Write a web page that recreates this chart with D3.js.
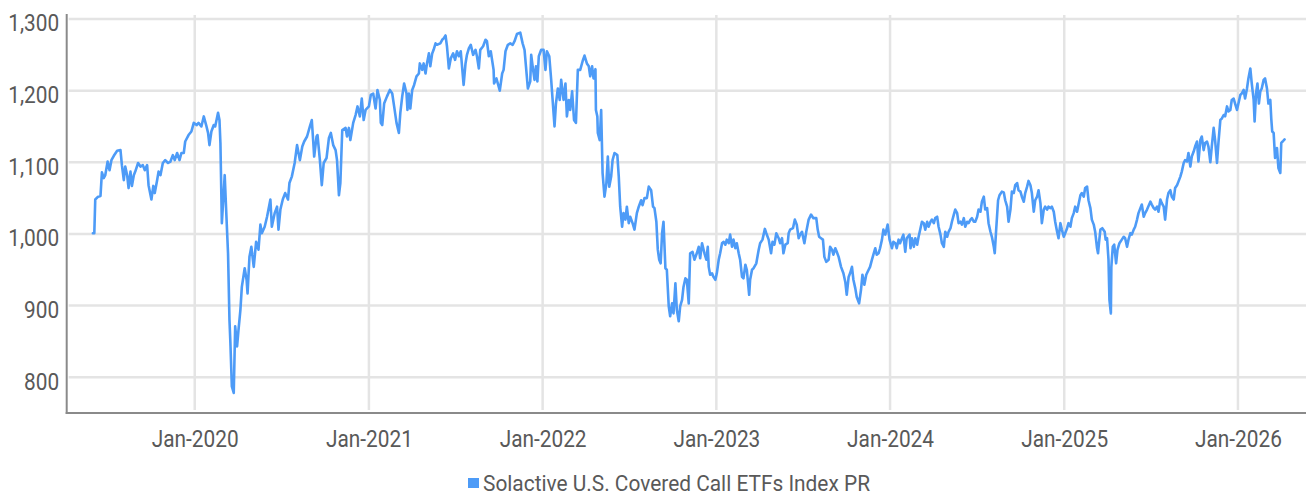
<!DOCTYPE html>
<html>
<head>
<meta charset="utf-8">
<script src="https://cdn.jsdelivr.net/npm/d3@7"></script>
<style>
  html, body { margin: 0; padding: 0; background: #ffffff; }
  svg { display: block; }
  text { font-family: Roboto, "Noto Sans", sans-serif; fill: #595959; }
</style>
</head>
<body>
<svg id="chart" width="1306" height="496"></svg>
<script>
// ---------------- DATA ----------------
const seriesName = "Solactive U.S. Covered Call ETFs Index PR";
const yTickValues = [800, 900, 1000, 1100, 1200, 1300];
const xTickYears = [2020, 2021, 2022, 2023, 2024, 2025, 2026];
const xTickLabels = ["Jan-2020", "Jan-2021", "Jan-2022", "Jan-2023", "Jan-2024", "Jan-2025", "Jan-2026"];

// dates as spreadsheet serial numbers (days since 1899-12-30)
const serialDates = [
43617,43620,43622,43628,43633,43636,43640,43643,43648,43652,
43656,43661,43668,43675,43678,43682,43685,43689,43692,43696,
43699,43703,43706,43712,43717,43722,43726,43731,43734,43740,
43744,43747,43752,43755,43759,43764,43769,43775,43780,43785,
43789,43794,43799,43803,43808,43811,43818,43824,43829,43835,
43839,43845,43850,43855,43859,43862,43866,43871,43874,43880,
43883,43885,43888,43891,43894,43897,43901,43904,43906,43909,
43913,43916,43920,43923,43927,43930,43936,43940,43942,43946,
43950,43955,43960,43965,43969,43972,43978,43983,43990,43993,
43999,44004,44007,44011,44016,44021,44027,44030,44035,44041,
44046,44052,44057,44061,44067,44073,44077,44080,44082,44087,
44089,44094,44098,44102,44108,44113,44117,44122,44127,44130,
44134,44137,44141,44148,44151,44155,44158,44164,44169,44173,
44178,44182,44186,44190,44197,44201,44206,44211,44215,44220,
44222,44225,44229,44235,44241,44246,44250,44255,44260,44263,
44267,44271,44276,44278,44281,44284,44288,44292,44297,44302,
44304,44309,44312,44316,44319,44323,44326,44330,44333,44337,
44340,44347,44351,44354,44358,44361,44365,44369,44374,44378,
44382,44386,44390,44396,44400,44403,44407,44411,44416,44421,
44424,44428,44431,44437,44442,44445,44449,44453,44459,44460,
44465,
44472,44477,44480,44484,44489,44494,44499,44503,44508,44515,
44520,44524,44527,44531,44536,44538,44542,44545,44548,44551,
44554,44559,44564,44568,44571,44576,44580,44583,44587,44590,
44594,44598,44601,44606,44610,44613,44617,44620,44624,44628,
44632,44636,44641,44646,44650,44655,44659,44662,44666,44669,
44673,44674,44677,44678,44682,44685,44688,44692,44696,44699,
44702,44706,44709,44713,44719,44722,44725,44729,44732,44736,
44739,44743,44746,44751,44755,44760,44764,44769,44772,44776,
44781,44785,44790,44794,44797,44801,44804,44807,44810,44813,
44816,44820,44823,44827,44830,44834,44837,44841,44844,44848,
44851,44855,44858,44862,44865,44869,44872,44877,44881,44886,
44890,44893,44897,44902,
44906,44909,44911,44914,44918,44921,44925,44928,44932,44935,
44939,44942,44946,44949,44953,44956,44960,44963,44967,44970,
44974,44977,44981,44984,44988,44991,44996,44998,45002,45005,
45011,45016,45019,45024,45029,45032,45037,45042,45045,45049,
45053,45058,45061,45065,45068,45072,45077,45079,45082,45088,
45092,45096,45100,45103,45107,45112,45116,45121,45126,45131,
45137,45140,45143,45147,45151,45154,45158,45163,45166,45170,
45173,45177,45180,45184,45189,45194,45198,45201,45205,45208,
45212,45215,45219,45222,45227,45231,45234,45238,45242,45247,
45250,45254,45257,45261,45264,45268,45271,45275,45278,45282,
45287,45291,45296,45299,45303,45306,45310,45313,45317,45320,
45324,45327,45333,
45335,45338,45342,45345,45349,45352,45356,45359,45363,45366,
45370,45373,45377,45380,45384,45387,45391,45394,45398,45401,
45405,45408,45412,45415,45419,45422,45426,45429,45433,45436,
45440,45443,45447,45450,45454,45457,45461,45464,45468,45471,
45475,45478,45482,45485,45489,45492,45496,45499,45503,45506,
45510,45512,45515,45519,45522,45527,45531,45534,45538,45541,
45545,45548,45552,45555,45559,45562,45566,45569,45573,45576,
45580,45583,45587,45590,45594,45597,45601,45604,45608,45611,
45615,45618,45622,45625,45629,45632,45636,45639,45643,45646,
45650,45653,45657,45660,45664,45667,45671,45674,45678,45681,
45685,45688,45692,45695,45699,45702,45706,45709,45713,45716,
45720,45723,45727,45729,45731,45734,45738,45743,45745,45748,
45751,45753,45756,
45757,45760,45763,45767,45770,45774,45779,45783,45786,45790,
45793,45797,45800,45804,45807,45811,45814,45818,45821,45825,
45828,45832,45839,45842,45846,45849,45853,45856,45860,45863,
45867,45870,45874,45877,45881,45884,45888,45891,45895,45898,
45902,45905,45909,45912,45916,45919,45923,45926,45930,45933,
45937,45940,45944,45947,45951,45954,45958,45961,45965,45968,
45972,45975,45979,45982,45986,45989,45993,45996,46000,46003,
46007,46010,46014,46017,46021,46024,46028,46031,46035,46038,
46042,46045,46049,46052,46056,46058,46061,46064,46067,46070,
46073,46077,46080,46084,46087,46091,46093,46095,46098,46101,
46105,46108,46112,46114,46117,46121
];

const indexValues = [
1001,1001,1048,1052,1053,1086,1078,1082,1101,1089,
1103,1109,1116,1117,1096,1075,1094,1082,1064,1087,
1067,1082,1087,1099,1094,1096,1089,1096,1068,1048,
1067,1057,1075,1087,1082,1099,1103,1099,1101,1110,
1103,1113,1103,1113,1113,1129,1138,1143,1155,1152,
1155,1150,1164,1152,1141,1124,1143,1152,1150,1169,
1159,1127,1015,1048,1082,1034,973,880,847,787,
778,871,843,866,894,926,952,936,917,968,
982,954,989,978,1013,1001,1010,1024,1048,1010,
1029,1038,1006,1034,1048,1057,1048,1071,1080,1099,
1124,1103,1122,1129,1136,1150,1159,1129,1108,1136,
1138,1103,1068,1099,1106,1134,1141,1124,1117,1103,
1054,1071,1145,1148,1136,1148,1131,1155,1166,1178,
1164,1189,1159,1173,1178,1194,1196,1175,1201,1187,
1155,1152,1182,1192,1201,1196,1178,1155,1141,1169,
1192,1210,1196,1173,1196,1175,1201,1208,1220,1224,
1238,1229,1238,1224,1238,1252,1234,1252,1257,1266,
1264,1266,1271,1273,1277,1262,1231,1245,1252,1243,
1255,1248,1255,1208,1238,1250,1259,1264,1250,1257,
1248,1231,1257,1262,1271,1269,1248,1255,1229,1210,
1217,
1200,1224,1229,1255,1264,1266,1264,1269,1279,1281,
1266,1257,1234,1203,1213,1250,1229,1215,1234,1213,
1248,1257,1257,1229,1255,1248,1215,1187,1150,1182,
1203,1187,1215,1187,1210,1164,1187,1173,1199,1159,
1155,1229,1229,1241,1249,1238,1234,1220,1234,1217,
1230,1173,1164,1141,1131,1173,1085,1052,1071,1108,
1066,1080,1103,1113,1110,1080,1038,1010,1029,1020,
1038,1015,1024,1015,1006,1029,1038,1047,1040,1050,
1050,1066,1061,1038,1036,1017,978,964,959,1001,
1017,952,950,899,885,903,889,931,894,878,
899,908,926,938,936,903,973,975,964,973,
982,966,987,973,
964,982,954,943,945,940,936,945,964,973,
987,989,985,992,987,999,982,992,980,987,
973,964,940,938,957,950,915,936,950,952,
959,978,987,992,1007,1001,992,973,989,985,
1001,994,987,994,973,985,987,1001,1006,1008,
1020,1013,994,999,1003,987,1003,1020,1027,1022,
1022,1006,996,994,992,968,961,964,982,978,
971,980,975,968,954,945,933,915,940,945,
954,936,924,912,903,922,943,929,943,950,
954,964,971,980,971,973,980,992,1006,999,
1013,992,980,989,987,980,992,987,994,999,
975,994,999,
980,994,982,994,985,996,1008,1017,1015,1006,
1017,1010,1017,1020,1015,1022,1024,1010,999,987,
982,1003,996,1003,1008,1017,1027,1034,1029,1015,
1017,1013,1022,1010,1017,1015,1020,1022,1017,1017,
1024,1034,1031,1045,1052,1034,1036,1015,1003,996,
982,973,1006,1047,1054,1059,1058,1047,1038,1017,
1034,1059,1057,1068,1071,1061,1059,1052,1045,1057,
1066,1074,1068,1057,1031,1047,1052,1061,1043,1015,
1034,1038,1034,1038,1036,1038,1031,1017,1003,994,
1015,1006,996,1001,1008,1015,1010,1022,1029,1038,
1031,1041,1054,1057,1052,1064,1066,1047,1036,1020,
1013,1003,980,973,987,1006,1008,1003,992,994,
964,908,889,
954,982,985,959,978,987,992,996,994,982,
992,1001,999,1006,1010,1020,1029,1036,1041,1024,
1029,1034,1045,1041,1036,1034,1038,1031,1048,1043,
1038,1020,1048,1057,1061,1052,1048,1064,1068,1073,
1080,1087,1099,1103,1101,1113,1094,1108,1115,1122,
1129,1101,1131,1136,1117,1127,1129,1122,1100,1122,
1148,1131,1099,1127,1159,1161,1166,1164,1178,1171,
1173,1187,1189,1182,1173,1182,1194,1196,1201,1189,
1203,1217,1231,1210,1187,1157,1196,1210,1182,1199,
1203,1215,1217,1203,1182,1187,1161,1143,1141,1106,
1120,1092,1085,1127,1129,1132
];

// ---------------- CHART ----------------
const fromSerial = s => new Date(Date.UTC(1899, 11, 30) + s * 864e5);
const series = serialDates.map((s, i) => ({ date: fromSerial(s), value: indexValues[i] }));

const svg = d3.select("#chart");
const plot = { left: 66.7, right: 1306, top: 14, bottom: 413 };

const x = d3.scaleUtc()
  .domain([fromSerial(43562), fromSerial(46166)])
  .range([plot.left, plot.right]);
const y = d3.scaleLinear()
  .domain([750, 1307])
  .range([plot.bottom, plot.top]);

const gridColor = "#e4e4e4";
const lineColor = "#4d9bf7";
const axisColor = "#8a8a8a";

// horizontal grid
svg.append("g").selectAll("line").data(yTickValues).join("line")
  .attr("x1", plot.left + 2).attr("x2", plot.right)
  .attr("y1", d => y(d)).attr("y2", d => y(d))
  .attr("stroke", gridColor).attr("stroke-width", 2.5);

// vertical grid
const xTickDates = xTickYears.map(yr => new Date(Date.UTC(yr, 0, 1)));
svg.append("g").selectAll("line").data(xTickDates).join("line")
  .attr("x1", d => x(d)).attr("x2", d => x(d))
  .attr("y1", plot.top + 1).attr("y2", plot.bottom - 3)
  .attr("stroke", gridColor).attr("stroke-width", 2.5);

// y axis labels
const yAxis = svg.append("g")
  .attr("transform", `translate(${plot.left},0)`)
  .call(d3.axisLeft(y).tickValues(yTickValues).tickSize(0).tickPadding(7.5).tickFormat(d3.format(",")));
yAxis.select(".domain").remove();
yAxis.selectAll("text")
  .attr("dy", "0.52em")
  .style("font-size", "23px").style("font-family", "Roboto, 'Noto Sans', sans-serif").attr("fill", "#595959");

// x axis labels
const xAxis = svg.append("g")
  .attr("transform", `translate(0,${plot.bottom})`)
  .call(d3.axisBottom(x).tickValues(xTickDates).tickSize(0).tickFormat((d, i) => xTickLabels[i]));
xAxis.select(".domain").remove();
xAxis.selectAll("text")
  .attr("y", 34).attr("dy", 0)
  .style("font-size", "23px").style("font-family", "Roboto, 'Noto Sans', sans-serif").attr("fill", "#595959");

// axis lines
svg.append("line")
  .attr("x1", plot.left).attr("x2", plot.left)
  .attr("y1", plot.top).attr("y2", plot.bottom + 1)
  .attr("stroke", axisColor).attr("stroke-width", 2);
svg.append("line")
  .attr("x1", plot.left - 1).attr("x2", plot.right)
  .attr("y1", plot.bottom).attr("y2", plot.bottom)
  .attr("stroke", axisColor).attr("stroke-width", 2);

// series line
const line = d3.line().x(d => x(d.date)).y(d => y(d.value));
svg.append("path")
  .datum(series)
  .attr("d", line)
  .attr("fill", "none")
  .attr("stroke", lineColor)
  .attr("stroke-width", 2.6)
  .attr("stroke-linejoin", "round")
  .attr("stroke-linecap", "round");

// legend
const legend = svg.append("g");
legend.append("rect")
  .attr("x", 468).attr("y", 478).attr("width", 11).attr("height", 10)
  .attr("fill", lineColor);
legend.append("text")
  .attr("class", "legend-label")
  .attr("x", 483).attr("y", 490.5)
  .style("font-size", "22.5px")
  .text(seriesName);

// condensed look: compress glyphs horizontally
svg.selectAll("text").each(function () {
  const w = this.getComputedTextLength();
  const target = this.classList.contains("legend-label") ? 387 : w * 0.905;
  this.setAttribute("textLength", target.toFixed(1));
  this.setAttribute("lengthAdjust", "spacingAndGlyphs");
});
</script>
</body>
</html>
